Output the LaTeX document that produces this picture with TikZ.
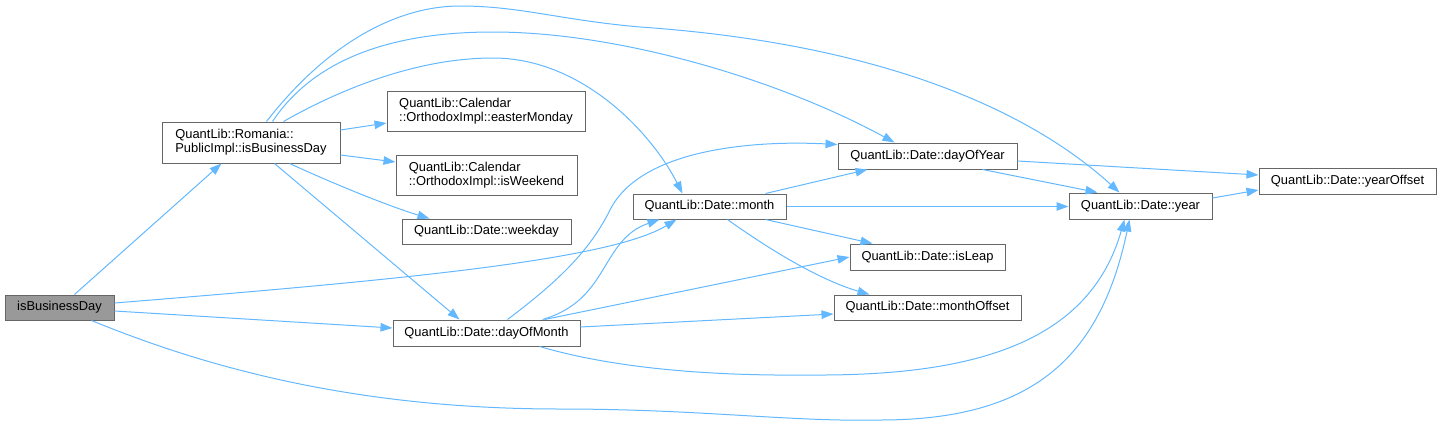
\documentclass[tikz,border=0pt]{standalone}
\usepackage{fontspec}
\setmainfont{Liberation Sans}
\usetikzlibrary{arrows.meta}
\definecolor{edgeblue}{HTML}{63B8FF}
\definecolor{boxgray}{HTML}{666666}
\definecolor{rootfill}{HTML}{999999}
\begin{document}
\begin{tikzpicture}[x=1pt,y=-1pt,
  box/.style={draw=boxgray, line width=1pt, fill=white, inner sep=0pt,
    font=\fontsize{12.9}{14}\selectfont, align=left},
  edge/.style={draw=edgeblue, line width=1pt, -{Triangle[length=12pt,width=8.5pt]}},
]
\useasboundingbox (0,0) rectangle (1441,426);

\node[box, fill=rootfill, minimum width=109pt, minimum height=25pt] (ibd) at (59.5,307.5) {isBusinessDay};
\node[box, minimum width=178pt, minimum height=41pt] (rom) at (251,142.5) {QuantLib::Romania::\\PublicImpl::isBusinessDay};
\node[box, minimum width=198pt, minimum height=40pt] (east) at (486,111) {QuantLib::Calendar\\::OrthodoxImpl::easterMonday};
\node[box, minimum width=181pt, minimum height=40pt] (wknd) at (486.5,175) {QuantLib::Calendar\\::OrthodoxImpl::isWeekend};
\node[box, minimum width=169pt, minimum height=25pt] (wkday) at (486.5,231.5) {QuantLib::Date::weekday};
\node[box, minimum width=187pt, minimum height=26pt] (dom) at (486.5,333) {QuantLib::Date::dayOfMonth};
\node[box, minimum width=179pt, minimum height=26pt] (doy) at (927.5,156) {QuantLib::Date::dayOfYear};
\node[box, minimum width=153pt, minimum height=25pt] (month) at (709.5,206.5) {QuantLib::Date::month};
\node[box, minimum width=155pt, minimum height=26pt] (leap) at (927.5,257) {QuantLib::Date::isLeap};
\node[box, minimum width=187pt, minimum height=25pt] (moff) at (927.5,307.5) {QuantLib::Date::monthOffset};
\node[box, minimum width=177pt, minimum height=26pt] (yoff) at (1347.5,181) {QuantLib::Date::yearOffset};
\node[box, minimum width=143pt, minimum height=26pt] (year) at (1140.5,206) {QuantLib::Date::year};

% isBusinessDay
\draw[edge] ([xshift=70pt]ibd.north west) -- ([xshift=60pt]rom.south west);
\draw[edge] ([yshift=4.5pt]ibd.east) .. controls (400,280) and (610,260) .. ([xshift=44pt]month.south west);
\draw[edge] ([yshift=-3.5pt]ibd.east) -- ([yshift=5pt]dom.west);
\draw[edge] ([xshift=87pt]ibd.south west) .. controls (200,365) and (350,409) .. (560,409)
  .. controls (700,409) and (790,422) .. (880,420)
  .. controls (1030,420) and (1100,360) .. ([xshift=61pt]year.south west);

% Romania
\draw[edge] ([yshift=12.5pt]rom.east) -- ([yshift=-12pt]east.west);
\draw[edge] ([yshift=-12.5pt]rom.east) -- ([yshift=13pt]wknd.west);
\draw[edge] ([xshift=128pt]rom.south west) .. controls (330,182) and (385,205) .. ([xshift=28pt]wkday.north west);
\draw[edge] ([xshift=113pt]rom.south west) -- ([xshift=67pt]dom.north west);
\draw[edge] ([xshift=111pt]rom.north west) .. controls (320,50) and (410,32) .. (493,32)
  .. controls (620,32) and (780,80) .. ([xshift=57pt]doy.north west);
\draw[edge] ([xshift=105pt]rom.north west) .. controls (330,40) and (400,6) .. (460,6)
  .. controls (520,6) and (560,20) .. (640,27)
  .. controls (900,45) and (1040,120) .. ([xshift=51pt]year.north west);
\draw[edge] ([xshift=122pt]rom.north west) .. controls (330,95) and (410,58) .. (493,58)
  .. controls (580,58) and (650,130) .. ([xshift=50pt]month.north west);

% dayOfMonth
\draw[edge] ([xshift=115pt]dom.north west) .. controls (560,280) and (590,250) .. (610,210)
  .. controls (640,150) and (750,140) .. ([yshift=-2pt]doy.north west);
\draw[edge] ([xshift=150pt]dom.north west) .. controls (610,300) and (600,240) .. ([xshift=27pt]month.south west);
\draw[edge] ([xshift=152pt]dom.north west) -- (leap.west);
\draw[edge] ([yshift=6pt]dom.east) -- ([yshift=-6.5pt]moff.west);
\draw[edge] ([xshift=147pt]dom.south west) .. controls (620,370) and (720,376) .. (812,375)
  .. controls (980,376) and (1090,340) .. ([xshift=56pt]year.south west);

% month
\draw[edge] ([xshift=133pt]month.north west) -- ([xshift=30pt]doy.south west);
\draw[edge] (month.east) -- (month.east -| year.west);
\draw[edge] ([xshift=133pt]month.south west) -- ([xshift=23pt]leap.north west);
\draw[edge] ([xshift=95pt]month.south west) .. controls (770,250) and (820,280) .. ([xshift=36pt]moff.north west);

% dayOfYear, year
\draw[edge] ([yshift=-5pt]doy.east) -- ([yshift=6pt]yoff.west);
\draw[edge] ([xshift=145pt]doy.south west) -- ([xshift=29pt]year.north west);
\draw[edge] ([yshift=8pt]year.east) -- ([yshift=-9pt]yoff.west);
\end{tikzpicture}
\end{document}
